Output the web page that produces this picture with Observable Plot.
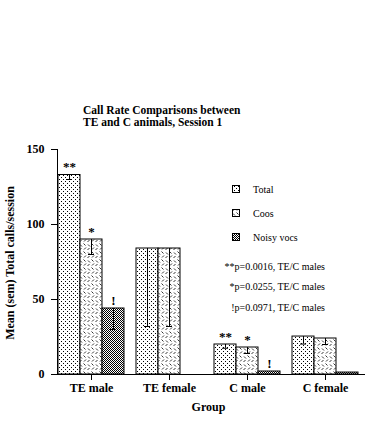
<!DOCTYPE html>
<html><head><meta charset="utf-8">
<script src="https://cdn.jsdelivr.net/npm/d3@7"></script>
<script src="https://cdn.jsdelivr.net/npm/@observablehq/plot@0.6"></script>
<style>
body{margin:0;background:#fff;}
#wrap{position:relative;width:365px;height:421px;overflow:hidden;font-family:"Liberation Serif","DejaVu Serif",serif;color:#000;}
#title{position:absolute;left:83px;top:104px;font-weight:bold;font-size:11.5px;line-height:12px;white-space:nowrap;}
#chart{position:absolute;left:0;top:135px;}
#overlay{position:absolute;left:0;top:0;pointer-events:none;}
</style></head><body>
<div id="wrap">
<div id="title">Call Rate Comparisons between<br>TE and C animals, Session 1</div>
<div id="chart"></div>
<svg id="overlay" width="365" height="421">
  <defs>
    <pattern id="pTotal" width="4" height="4" patternUnits="userSpaceOnUse">
      <rect width="4" height="4" fill="#fff"/>
      <rect x="0" y="0" width="1" height="1" fill="#000"/>
      <rect x="2" y="2" width="1" height="1" fill="#000"/>
    </pattern>
    <pattern id="pCoos" width="8" height="8" patternUnits="userSpaceOnUse">
      <rect width="8" height="8" fill="#fff"/>
      <path d="M0.5,3 L2.5,1 M4.5,4.5 L6.5,6.5 M5,2.5 L7,0.5 M1,5.5 L3,7.5" stroke="#000" stroke-width="0.8" fill="none"/>
    </pattern>
    <pattern id="pNoisy" width="2" height="2" patternUnits="userSpaceOnUse">
      <rect width="2" height="2" fill="#fff"/>
      <rect x="0" y="0" width="1" height="1" fill="#000"/>
      <rect x="1" y="1" width="1" height="1" fill="#000"/>
    </pattern>
  </defs>
  <g id="legend"></g>
</svg>
</div>
<script>
// ---- data ----
const groups = ["TE male", "TE female", "C male", "C female"];
const series = ["Total", "Coos", "Noisy vocs"];
const totalMean = [133, 84, 20, 25.3];
const totalSem  = [3, 52, 2.5, 5];
const coosMean  = [90, 84, 18, 24];
const coosSem   = [10, 52, 4, 4];
const noisyMean = [44, null, 2, 1.3];
const noisySem  = [14, null, 0, 0];
const annotGroup  = ["TE male", "TE male", "TE male", "C male", "C male", "C male"];
const annotSeries = ["Total", "Coos", "Noisy vocs", "Total", "Coos", "Noisy vocs"];
const annotText   = ["**", "*", "!", "**", "*", "!"];
const pNotes = ["**p=0.0016, TE/C males", "*p=0.0255, TE/C males", "!p=0.0971, TE/C males"];
const yTicks = [0, 50, 100, 150];
const yLabel = "Mean (sem) Total calls/session";

const FONT = "'Liberation Serif', 'DejaVu Serif', serif";
const patterns = {"Total": "url(#pTotal)", "Coos": "url(#pCoos)", "Noisy vocs": "url(#pNoisy)"};
const means = {"Total": totalMean, "Coos": coosMean, "Noisy vocs": noisyMean};
const sems = {"Total": totalSem, "Coos": coosSem, "Noisy vocs": noisySem};

const data = [];
groups.forEach((g, i) => series.forEach(s => {
  if (means[s][i] != null) data.push({group: g, series: s, value: means[s][i], sem: sems[s][i]});
}));
const errData = data.filter(d => d.sem > 0);
const annots = annotGroup.map((g, i) => {
  const d = data.find(e => e.group === g && e.series === annotSeries[i]);
  return {group: g, series: annotSeries[i], value: d.value, text: annotText[i]};
});

const chart = Plot.plot({
  width: 365, height: 286,
  marginLeft: 50, marginRight: 0, marginTop: 14, marginBottom: 47,
  style: {fontFamily: FONT, fontSize: "12px", fontWeight: "bold", background: "transparent", color: "#000", overflow: "visible"},
  fx: {domain: groups, paddingInner: 0.13, paddingOuter: 0.08, label: "Group", labelAnchor: "center", labelOffset: 36, tickSize: 6, tickPadding: 3},
  x: {domain: series, padding: 0, axis: null},
  y: {domain: [0, 150], ticks: yTicks, tickSize: 6, tickPadding: 7, line: true, label: null},
  marks: [
    ...series.map(s => Plot.barY(data.filter(d => d.series === s), {
      fx: "group", x: "series", y: "value", fill: patterns[s], stroke: "#000", strokeWidth: 1
    })),
    Plot.ruleX(errData, {fx: "group", x: "series", y1: d => d.value - d.sem, y2: "value", stroke: "#000", strokeWidth: 1}),
    Plot.tickY(errData, {fx: "group", x: "series", y: d => d.value - d.sem, stroke: "#000", strokeWidth: 1, insetLeft: 8, insetRight: 8}),
    Plot.text(annots, {fx: "group", x: "series", y: "value", text: "text", dy: -4, lineAnchor: "bottom", fontSize: 13, fontWeight: "bold"}),
    Plot.ruleY([0], {stroke: "#000", strokeWidth: 1, insetLeft: -6, insetRight: -6})
  ]
});
document.getElementById("chart").appendChild(chart);

// ---- y label, legend & notes ----
const ov = d3.select("#overlay");
ov.append("text")
  .attr("transform", "translate(14,263) rotate(-90)")
  .attr("text-anchor", "middle")
  .attr("font-family", FONT).attr("font-size", 12).attr("font-weight", "bold")
  .text(yLabel);
const lg = d3.select("#legend")
  .attr("font-family", FONT)
  .attr("font-size", 10);
series.forEach((s, i) => {
  const y = 185 + i * 24;
  lg.append("rect").attr("x", 232.5).attr("y", y + 0.5).attr("width", 7).attr("height", 7)
    .attr("fill", patterns[s]).attr("stroke", "#000").attr("stroke-width", 1);
  lg.append("text").attr("x", 253).attr("y", y + 7.5).text(s);
});
pNotes.forEach((t, i) => {
  lg.append("text").attr("x", 325).attr("y", 269.5 + i * 20.5).attr("text-anchor", "end").text(t);
});
</script>
</body></html>
